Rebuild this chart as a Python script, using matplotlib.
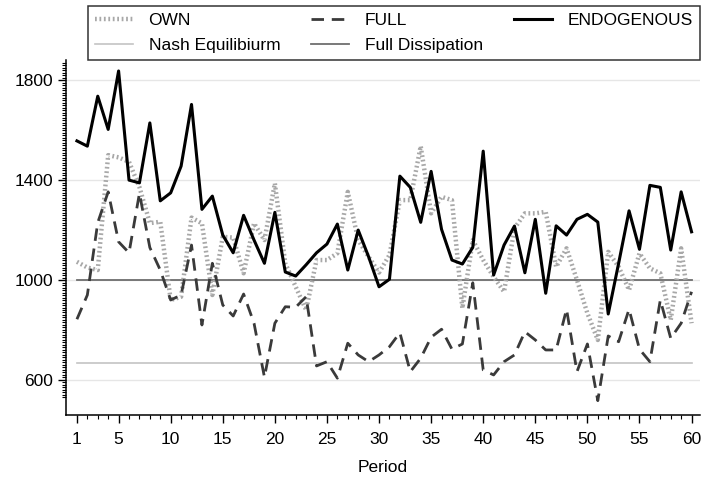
import numpy as np
import matplotlib.pyplot as plt
from matplotlib.ticker import FixedLocator

plt.rcParams['font.family'] = ['Liberation Sans', 'DejaVu Sans']

# data
period = np.arange(1, 61)

own = [1073, 1050, 1040, 1500, 1491, 1473, 1372, 1228, 1233, 920,
       933, 1250, 1227, 940, 1173, 1170, 1027, 1227, 1160, 1387,
       1067, 973, 880, 1080, 1080, 1107, 1353, 1160, 1093, 1030,
       1100, 1320, 1320, 1536, 1267, 1333, 1320, 887, 1160, 1080,
       1013, 953, 1207, 1267, 1267, 1273, 1053, 1127, 1000, 867,
       760, 1113, 1053, 960, 1107, 1047, 1027, 840, 1127, 827]

full = [843, 940, 1230, 1353, 1153, 1109, 1347, 1130, 1040, 920,
        940, 1140, 820, 1067, 900, 856, 944, 827, 611, 827,
        893, 891, 933, 656, 673, 607, 747, 700, 673, 700,
        733, 789, 633, 687, 771, 803, 723, 744, 989, 640,
        620, 673, 700, 793, 760, 720, 720, 883, 633, 744,
        517, 776, 753, 883, 723, 673, 920, 767, 827, 953]

endo = [1557, 1536, 1736, 1603, 1837, 1400, 1389, 1629, 1317, 1349,
        1456, 1703, 1283, 1336, 1180, 1109, 1259, 1160, 1067, 1271,
        1032, 1016, 1061, 1109, 1144, 1224, 1040, 1200, 1093, 973,
        1003, 1416, 1371, 1231, 1435, 1203, 1080, 1064, 1131, 1516,
        1020, 1140, 1216, 1029, 1243, 947, 1217, 1180, 1243, 1263,
        1232, 864, 1067, 1277, 1123, 1379, 1371, 1120, 1353, 1193]

nash = 2000 / 3
dissipation = 1000

x_major = [1, 5, 10, 15, 20, 25, 30, 35, 40, 45, 50, 55, 60]
y_major = [600, 1000, 1400, 1800]

fig = plt.figure(figsize=(7.02, 4.78), dpi=100)
ax = fig.add_axes([0.094, 0.132, 0.903, 0.742])

# grid lines at the labelled values
for v in y_major:
    ax.axhline(v, color='#e6e6e6', lw=1, zorder=0)

ax.plot(period, own, color='#a8a8a8', lw=3.2, linestyle=(0, (0.4, 0.6)),
        label='OWN', zorder=2)
ax.plot([period[0], period[-1]], [nash, nash], color='#c4c4c4', lw=1.2,
        label='Nash Equilibiurm', zorder=1)
ax.plot(period, full, color='#3a3a3a', lw=2, linestyle=(0, (4.5, 2.8)),
        label='FULL', zorder=3)
ax.plot([period[0], period[-1]], [dissipation, dissipation], color='#6e6e6e',
        lw=1.3, label='Full Dissipation', zorder=1)
ax.plot(period, endo, color='black', lw=2.2, label='ENDOGENOUS', zorder=4)

ax.set_xlim(-0.05, 60.8)
ax.set_ylim(460, 1880)

ax.xaxis.set_major_locator(FixedLocator(x_major))
ax.xaxis.set_minor_locator(FixedLocator(period))
ax.yaxis.set_major_locator(FixedLocator(y_major))
ax.yaxis.set_minor_locator(FixedLocator(np.arange(530, 1880, 10)))

ax.tick_params(axis='both', which='major', length=6, width=1,
               labelsize=12.5, color='black')
ax.tick_params(axis='both', which='minor', length=3, width=0.8,
               color='black')
ax.tick_params(axis='y', pad=3)
ax.tick_params(axis='x', pad=6)

for side in ['top', 'right']:
    ax.spines[side].set_visible(False)
for side in ['left', 'bottom']:
    ax.spines[side].set_linewidth(1.1)

ax.set_xlabel('Period', fontsize=12.5, labelpad=10)

handles, labels = ax.get_legend_handles_labels()
leg = fig.legend(handles, labels, ncol=3, loc='upper left',
                 bbox_to_anchor=(0.125, 0.988, 0.872, 0.0), mode='expand',
                 fontsize=12.5, frameon=True, fancybox=False,
                 edgecolor='black', handlelength=2.2, handletextpad=0.9,
                 borderaxespad=0, labelspacing=0.6, borderpad=0.4)
leg.get_frame().set_linewidth(1.1)

fig.savefig('out.png', dpi=100)
